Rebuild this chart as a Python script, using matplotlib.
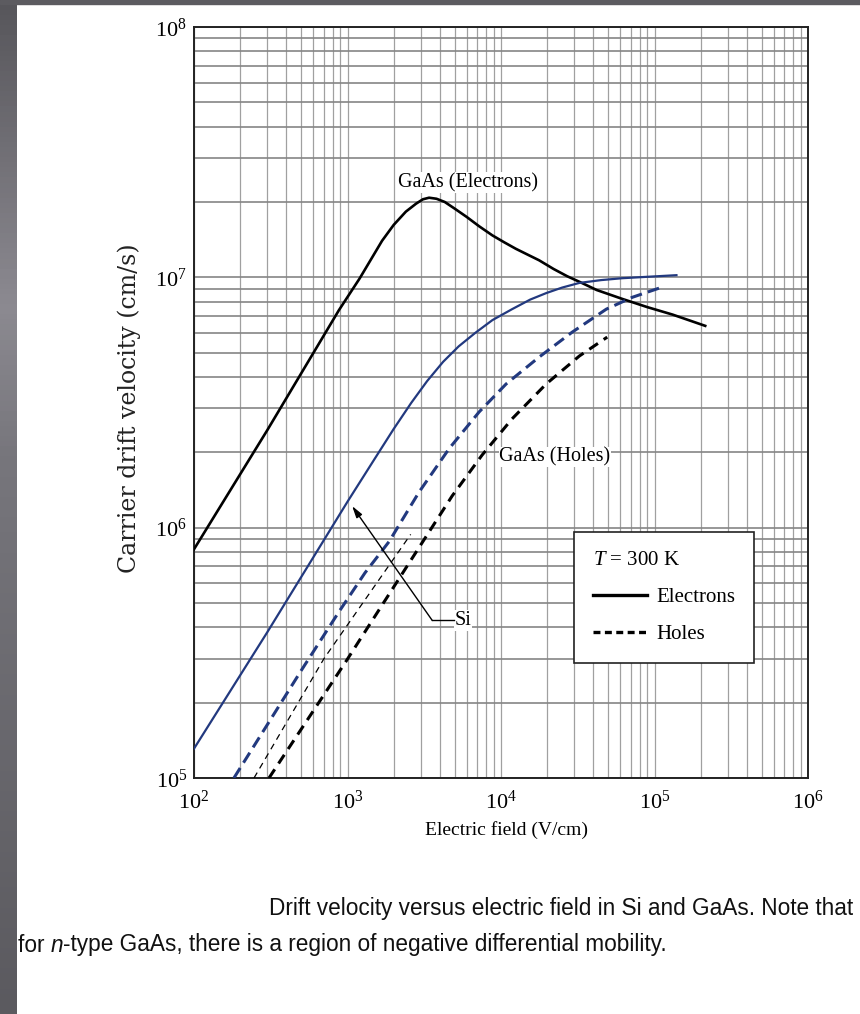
import numpy as np
import matplotlib
matplotlib.use('Agg')
import matplotlib.pyplot as plt
from matplotlib.lines import Line2D
from matplotlib.patches import Rectangle
from matplotlib.colors import LinearSegmentedColormap
from matplotlib.ticker import FixedLocator, FixedFormatter, LogLocator, NullFormatter
from matplotlib import font_manager as fm

# ---------------- data ----------------
gaas_e_E = [100, 300, 880, 1200, 1680, 2000, 2400, 2800, 3100, 3400, 3800, 4300,
            5000, 6000, 7200, 8800, 10500, 12500, 15000, 17700, 22000, 27000,
            32400, 42000, 61700, 90000, 131000, 214000]
gaas_e_v = [8.2e5, 2.45e6, 7.4e6, 9.9e6, 1.40e7, 1.62e7, 1.83e7, 1.97e7, 2.05e7,
            2.08e7, 2.06e7, 2.00e7, 1.88e7, 1.74e7, 1.60e7, 1.47e7, 1.38e7, 1.30e7,
            1.23e7, 1.17e7, 1.08e7, 1.01e7, 9.6e6, 8.9e6, 8.2e6, 7.6e6, 7.1e6, 6.4e6]

si_e_E = [100, 300, 1000, 1500, 2000, 2600, 3300, 4200, 5300, 6800, 8800, 11800,
          15500, 19700, 25000, 32400, 45000, 61700, 90000, 139000]
si_e_v = [1.31e5, 3.82e5, 1.27e6, 1.88e6, 2.48e6, 3.15e6, 3.85e6, 4.6e6, 5.3e6,
          6.0e6, 6.75e6, 7.46e6, 8.15e6, 8.65e6, 9.1e6, 9.5e6, 9.75e6, 9.92e6,
          1.005e7, 1.02e7]

si_h_E = [182, 500, 881, 1300, 1866, 2931, 4595, 7205, 10800, 17700, 29100,
          48500, 71600, 111000]
si_h_v = [1.0e5, 2.69e5, 4.62e5, 6.6e5, 8.8e5, 1.39e6, 2.07e6, 2.90e6, 3.75e6,
          4.80e6, 6.04e6, 7.46e6, 8.32e6, 9.12e6]

si_h_thin_E = [246, 703, 1500, 2580]
si_h_thin_v = [1.0e5, 3.0e5, 5.84e5, 9.4e5]

gaas_h_E = [308, 980, 2168, 4810, 7530, 11800, 19700, 32400, 49200]
gaas_h_v = [1.0e5, 2.93e5, 6.26e5, 1.34e6, 1.95e6, 2.72e6, 3.75e6, 4.85e6, 5.77e6]

x_ticks = [1e2, 1e3, 1e4, 1e5, 1e6]
x_tick_labels = [r'$10^{2}$', r'$10^{3}$', r'$10^{4}$', r'$10^{5}$', r'$10^{6}$']
y_ticks = [1e5, 1e6, 1e7, 1e8]
y_tick_labels = [r'$10^{5}$', r'$10^{6}$', r'$10^{7}$', r'$10^{8}$']

# ---------------- style ----------------
plt.rcParams['mathtext.fontset'] = 'custom'
plt.rcParams['mathtext.rm'] = 'Liberation Serif'
plt.rcParams['mathtext.it'] = 'Liberation Serif:italic'
plt.rcParams['lines.scale_dashes'] = False

SERIF = 'Liberation Serif'
names = {f.name for f in fm.fontManager.ttflist}
if 'Liberation Sans Narrow' in names:
    CAP_FONT, CAP_SIZE = 'Liberation Sans Narrow', 19.5
else:
    CAP_FONT, CAP_SIZE = 'Liberation Sans', 16.3

BLUE = '#22397f'
W, H = 860, 1014
fig = plt.figure(figsize=(W / 100, H / 100), dpi=100)
fig.patch.set_facecolor('white')

# slide-like grey border at left and top
bg = fig.add_axes([0, 0, 17 / W, 1])
cmap = LinearSegmentedColormap.from_list(
    'g', [(0, '#57565b'), (0.30, '#8c8a91'), (0.45, '#77767c'), (1.0, '#5b5a5f')])
bg.imshow(np.linspace(0, 1, 200).reshape(-1, 1), aspect='auto', cmap=cmap,
          extent=[0, 1, 1, 0])
bg.set_axis_off()
fig.add_artist(Rectangle((0, 1 - 4 / H), 1, 4 / H, transform=fig.transFigure,
                         color='#5c5b60', zorder=5))

ax = fig.add_axes([194 / W, (H - 778) / H, 614 / W, 751 / H])
ax.set_xscale('log')
ax.set_yscale('log')
ax.set_xlim(1e2, 1e6)
ax.set_ylim(1e5, 1e8)

ax.xaxis.set_major_locator(FixedLocator(x_ticks))
ax.xaxis.set_major_formatter(FixedFormatter(x_tick_labels))
ax.yaxis.set_major_locator(FixedLocator(y_ticks))
ax.yaxis.set_major_formatter(FixedFormatter(y_tick_labels))
for a in (ax.xaxis, ax.yaxis):
    a.set_minor_locator(LogLocator(base=10, subs=np.arange(2, 10), numticks=20))
    a.set_minor_formatter(NullFormatter())
ax.tick_params(which='both', length=0)
ax.tick_params(axis='x', pad=8, labelsize=16)
ax.tick_params(axis='y', pad=5, labelsize=16)

ax.grid(True, which='both', axis='x', color='#a0a0a0', lw=0.9)
ax.grid(True, which='both', axis='y', color='#858585', lw=1.2)
ax.set_axisbelow(True)
for s in ax.spines.values():
    s.set_linewidth(1.4)
    s.set_color('#222222')

# curves
ax.plot(gaas_e_E, gaas_e_v, color='black', lw=1.9, zorder=3)
ax.plot(si_e_E, si_e_v, color=BLUE, lw=1.6, zorder=3)
ax.plot(si_h_E, si_h_v, color=BLUE, lw=2.2, dashes=(8.5, 4.5), zorder=3)
ax.plot(si_h_thin_E, si_h_thin_v, color='black', lw=0.9, dashes=(4.5, 3.5), zorder=3)
ax.plot(gaas_h_E, gaas_h_v, color='black', lw=2.2, dashes=(7.5, 5), zorder=3)

# annotations
ax.text(6110, 2.39e7, 'GaAs (Electrons)', family=SERIF, fontsize=14.5,
        ha='center', va='center', zorder=4,
        bbox=dict(facecolor='white', edgecolor='none', pad=0.5))
ax.text(2.25e4, 1.92e6, 'GaAs (Holes)', family=SERIF, fontsize=14.5,
        ha='center', va='center', zorder=4,
        bbox=dict(facecolor='white', edgecolor='none', pad=0.5))
ax.text(4990, 4.26e5, 'Si', family=SERIF, fontsize=14.5, ha='left', va='center',
        zorder=4, bbox=dict(facecolor='white', edgecolor='none', pad=0.5))
ax.plot([3565, 4955], [4.26e5, 4.26e5], color='black', lw=1.0, zorder=4)
ax.annotate('', xy=(1072, 1.22e6), xytext=(3565, 4.26e5), zorder=4,
            arrowprops=dict(arrowstyle='-|>,head_length=0.7,head_width=0.2',
                            color='black', lw=1.0, shrinkA=0, shrinkB=0))

# legend
handles = [Line2D([], [], color='black', lw=2.4),
           Line2D([], [], color='black', lw=2.4, dashes=(5, 3.2))]
leg = ax.legend(handles, ['Electrons', 'Holes'], title=r'$T$ = 300 K',
                loc='upper left', bbox_to_anchor=((574 - 194) / 614, (778 - 532) / 751),
                borderaxespad=0, frameon=True, fancybox=False, framealpha=1,
                edgecolor='#222222', borderpad=0.9, labelspacing=0.85,
                handlelength=2.6, handletextpad=0.45, alignment='left',
                prop={'family': SERIF, 'size': 15},
                title_fontproperties={'family': SERIF, 'size': 15})
leg.get_frame().set_linewidth(1.2)
leg.set_zorder(6)

# axis labels
ax.set_xlabel('Electric field (V/cm)', family=SERIF, fontsize=14)
ax.xaxis.set_label_coords((506 - 194) / 614, (778 - 830) / 751)
ax.set_ylabel('Carrier drift velocity (cm/s)', family='DejaVu Serif', fontsize=17,
              color='#222222')
ax.yaxis.set_label_coords((129 - 194) / 614, (778 - 408) / 751)
ax.xaxis.label.set_va('center')
ax.yaxis.label.set_va('center')

# caption (second line built from chained pieces so that "n" is italic)
cap_kw = dict(family=CAP_FONT, fontsize=CAP_SIZE, color='#111111')
fig.text(853 / W, 1 - 908 / H,
         'Drift velocity versus electric field in Si and GaAs. Note that',
         ha='right', va='center', **cap_kw)
t1 = fig.text(18 / W, 1 - 945 / H, 'for ', ha='left', va='center', **cap_kw)
t2 = fig.text(0, 0, 'n', style='italic', ha='left', va='center', **cap_kw)
t3 = fig.text(0, 0, '-type GaAs, there is a region of negative differential mobility.',
              ha='left', va='center', **cap_kw)
fig.canvas.draw()
r = fig.canvas.get_renderer()
inv = fig.transFigure.inverted()
b1 = t1.get_window_extent(r)
t2.set_position(inv.transform((b1.x1, (b1.y0 + b1.y1) / 2)))
fig.canvas.draw()
b2 = t2.get_window_extent(r)
t3.set_position(inv.transform((b2.x1, (b1.y0 + b1.y1) / 2)))

fig.savefig('out.png', dpi=100, facecolor='white')
